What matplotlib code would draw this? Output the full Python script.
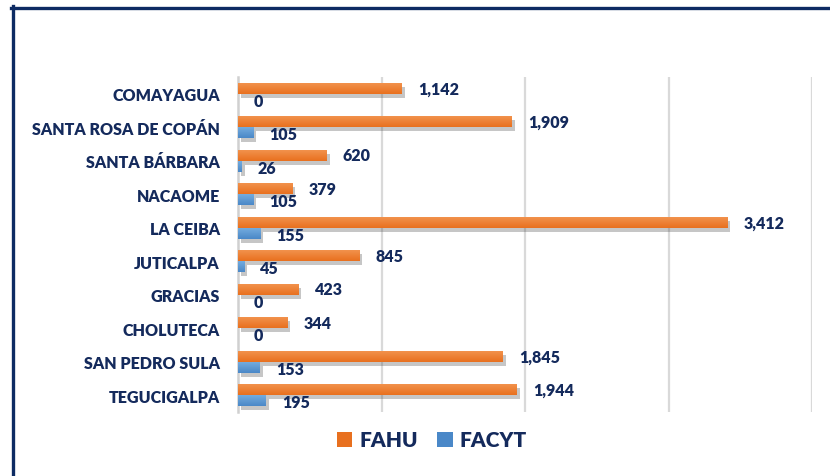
import numpy as np
import matplotlib
matplotlib.use('Agg')
import matplotlib.pyplot as plt
import matplotlib.patheffects as pe
from matplotlib.colors import LinearSegmentedColormap
from matplotlib.lines import Line2D
from matplotlib.patches import Patch

plt.rcParams['font.family'] = ['Lato', 'DejaVu Sans']
plt.rcParams['font.weight'] = 'heavy'

sedes = ['COMAYAGUA', 'SANTA ROSA DE COPÁN', 'SANTA BÁRBARA', 'NACAOME', 'LA CEIBA',
         'JUTICALPA', 'GRACIAS', 'CHOLUTECA', 'SAN PEDRO SULA', 'TEGUCIGALPA']
fahu = [1142, 1909, 620, 379, 3412, 845, 423, 344, 1845, 1944]
facyt = [0, 105, 26, 105, 155, 45, 0, 0, 153, 195]

navy = '#142a5c'
orange_top, orange_bot = '#f39550', '#e8701f'
blue_top, blue_bot = '#78afe0', '#4a88c8'
wt = 'heavy'

W, H = 830, 477
fig = plt.figure(figsize=(W / 100, H / 100), dpi=100)
fig.patch.set_facecolor('white')

# marco (izquierda y arriba)
fig.add_artist(Line2D([12.5 / W, 12.5 / W], [0, 1 - 7 / H], color='#0d2b63', lw=2.4))
fig.add_artist(Line2D([11.3 / W, 1], [1 - 8.5 / H, 1 - 8.5 / H], color='#0d2b63', lw=2.4))

ax = fig.add_axes([238 / W, 1 - 413 / H, (812 - 238) / W, (413 - 78) / H])

y = np.arange(len(sedes))
h = 0.33


def grad_bars(ys, vals, c1, c2):
    cmap = LinearSegmentedColormap.from_list('g', [c1, c2])
    bars = ax.barh(ys, vals, height=h, color=c2, zorder=3,
                   path_effects=[pe.SimplePatchShadow(offset=(2, -3), shadow_rgbFace='#444444', alpha=0.3),
                                 pe.Normal()])
    for b in bars:
        if b.get_width() <= 0:
            continue
        x0, y0 = b.get_x(), b.get_y()
        im = ax.imshow(np.linspace(0, 1, 30).reshape(-1, 1), cmap=cmap, aspect='auto',
                       extent=[x0, x0 + b.get_width(), y0 + b.get_height(), y0],
                       zorder=4, interpolation='bilinear')
        im.set_clip_path(b)
    return bars


grad_bars(y - h / 2, fahu, orange_top, orange_bot)
grad_bars(y + h / 2, facyt, blue_top, blue_bot)
ax.set_xlim(0, 4000)
ax.set_ylim(len(sedes) - 0.5, -0.5)

for i in range(len(sedes)):
    ax.annotate(f'{fahu[i]:,}', (fahu[i], y[i] - h / 2), xytext=(16, 0), textcoords='offset pixels',
                ha='left', va='center', fontsize=11.5, color=navy, fontweight=wt)
    ax.annotate(f'{facyt[i]:,}', (facyt[i], y[i] + h / 2 + 0.05), xytext=(16, 0), textcoords='offset pixels',
                ha='left', va='center', fontsize=11.5, color=navy, fontweight=wt)

ax.set_yticks(y)
ax.set_yticklabels(sedes, fontsize=11.5, color=navy, fontweight=wt)
ax.tick_params(axis='y', length=0, pad=13)
ax.set_xticks([1000, 2000, 3000, 4000])
ax.tick_params(axis='x', length=0, labelbottom=False)
ax.grid(axis='x', color='#d9d9d9', lw=1.6, zorder=0)
for s in ['top', 'right', 'bottom']:
    ax.spines[s].set_visible(False)
ax.spines['left'].set_color('#d0d0d0')
ax.spines['left'].set_linewidth(1.8)

# leyenda
handles = [Patch(facecolor=orange_bot, label='FAHU'), Patch(facecolor=blue_bot, label='FACYT')]
fig.legend(handles=handles, loc='center', bbox_to_anchor=(432 / W, 1 - 441 / H), ncol=2, frameon=False,
           prop={'size': 15, 'weight': wt}, labelcolor=navy, handlelength=0.75, handleheight=0.75,
           handletextpad=0.35, columnspacing=0.9)

plt.savefig('out.png', dpi=100)
